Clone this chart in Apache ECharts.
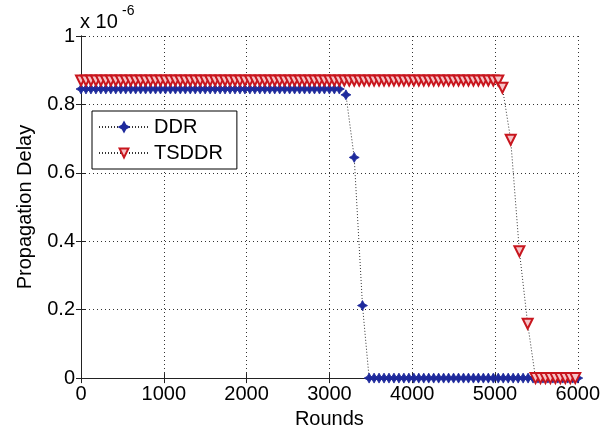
<!DOCTYPE html>
<html>
<head>
<meta charset="utf-8">
<script src="https://cdn.jsdelivr.net/npm/echarts@6/dist/echarts.min.js"></script>
<style>
  html, body { margin: 0; padding: 0; background: #fff; }
  #chart { width: 603px; height: 434px; }
</style>
</head>
<body>
<div id="chart"></div>
<script>
// Propagation delay (units of 1e-6) against simulation rounds

const xTicks = [0, 1000, 2000, 3000, 4000, 5000, 6000];
const yTicks = [0, 0.2, 0.4, 0.6, 0.8, 1];

const ddrRounds = [
  0, 60, 120, 180, 240, 300, 360, 420, 480, 540,
  600, 660, 720, 780, 840, 900, 960, 1020, 1080, 1140,
  1200, 1260, 1320, 1380, 1440, 1500, 1560, 1620, 1680, 1740,
  1800, 1860, 1920, 1980, 2040, 2100, 2160, 2220, 2280, 2340,
  2400, 2460, 2520, 2580, 2640, 2700, 2760, 2820, 2880, 2940,
  3000, 3060, 3120,
  3200, 3300, 3400,
  3480, 3540, 3600, 3660, 3720, 3780, 3840, 3900, 3960, 4020,
  4080, 4140, 4200, 4260, 4320, 4380, 4440, 4500, 4560, 4620,
  4680, 4740, 4800, 4860, 4920, 4980, 5040, 5100, 5160, 5220,
  5280, 5340, 5400, 5460, 5520, 5580, 5640, 5700, 5760, 5820,
  5880, 5940, 6000
];
const ddrDelay = [
  0.845, 0.845, 0.845, 0.845, 0.845, 0.845, 0.845, 0.845, 0.845, 0.845,
  0.845, 0.845, 0.845, 0.845, 0.845, 0.845, 0.845, 0.845, 0.845, 0.845,
  0.845, 0.845, 0.845, 0.845, 0.845, 0.845, 0.845, 0.845, 0.845, 0.845,
  0.845, 0.845, 0.845, 0.845, 0.845, 0.845, 0.845, 0.845, 0.845, 0.845,
  0.845, 0.845, 0.845, 0.845, 0.845, 0.845, 0.845, 0.845, 0.845, 0.845,
  0.845, 0.845, 0.845,
  0.828, 0.645, 0.212,
  0, 0, 0, 0, 0, 0, 0, 0, 0, 0,
  0, 0, 0, 0, 0, 0, 0, 0, 0, 0,
  0, 0, 0, 0, 0, 0, 0, 0, 0, 0,
  0, 0, 0, 0, 0, 0, 0, 0, 0, 0,
  0, 0, 0
];

const tsddrRounds = [
  0, 60, 120, 180, 240, 300, 360, 420, 480, 540,
  600, 660, 720, 780, 840, 900, 960, 1020, 1080, 1140,
  1200, 1260, 1320, 1380, 1440, 1500, 1560, 1620, 1680, 1740,
  1800, 1860, 1920, 1980, 2040, 2100, 2160, 2220, 2280, 2340,
  2400, 2460, 2520, 2580, 2640, 2700, 2760, 2820, 2880, 2940,
  3000, 3060, 3120, 3180, 3240, 3300, 3360, 3420, 3480, 3540,
  3600, 3660, 3720, 3780, 3840, 3900, 3960, 4020, 4080, 4140,
  4200, 4260, 4320, 4380, 4440, 4500, 4560, 4620, 4680, 4740,
  4800, 4860, 4920, 4980, 5040,
  5090, 5190, 5295, 5395,
  5490, 5550, 5610, 5670, 5730, 5790, 5850, 5910, 5970
];
const tsddrDelay = [
  0.87, 0.87, 0.87, 0.87, 0.87, 0.87, 0.87, 0.87, 0.87, 0.87,
  0.87, 0.87, 0.87, 0.87, 0.87, 0.87, 0.87, 0.87, 0.87, 0.87,
  0.87, 0.87, 0.87, 0.87, 0.87, 0.87, 0.87, 0.87, 0.87, 0.87,
  0.87, 0.87, 0.87, 0.87, 0.87, 0.87, 0.87, 0.87, 0.87, 0.87,
  0.87, 0.87, 0.87, 0.87, 0.87, 0.87, 0.87, 0.87, 0.87, 0.87,
  0.87, 0.87, 0.87, 0.87, 0.87, 0.87, 0.87, 0.87, 0.87, 0.87,
  0.87, 0.87, 0.87, 0.87, 0.87, 0.87, 0.87, 0.87, 0.87, 0.87,
  0.87, 0.87, 0.87, 0.87, 0.87, 0.87, 0.87, 0.87, 0.87, 0.87,
  0.87, 0.87, 0.87, 0.87, 0.87,
  0.849, 0.697, 0.371, 0.159,
  0, 0, 0, 0, 0, 0, 0, 0, 0
];

const FONT = '"Liberation Sans", Arial, sans-serif';
const pairs = (xs, ys) => xs.map((x, i) => [x, ys[i]]);

const starPath = 'path://M0,-10 L3.6,-3.6 L10,0 L3.6,3.6 L0,10 L-3.6,3.6 L-10,0 L-3.6,-3.6 Z';
const trianglePath = 'path://M-10,-8 L10,-8 L0,10 Z';

const xBase = {
  type: 'value', min: xTicks[0], max: xTicks[xTicks.length - 1], interval: 1000,
  axisLine: { show: true, lineStyle: { color: '#222', width: 1 } },
  axisTick: { show: true, inside: true, length: 5, lineStyle: { color: '#222' } }
};
const yBase = {
  type: 'value', min: yTicks[0], max: yTicks[yTicks.length - 1], interval: 0.2,
  axisLine: { show: true, lineStyle: { color: '#222', width: 1 } },
  axisTick: { show: true, inside: true, length: 5, lineStyle: { color: '#222' } }
};

const chart = echarts.init(document.getElementById('chart'), null, { renderer: 'canvas' });
chart.setOption({
  backgroundColor: '#fff',
  animation: false,
  grid: { left: 81, right: 25, top: 36, bottom: 51, show: false },
  graphic: [
    { type: 'text', left: 80, top: 12, style: { text: 'x 10', font: '20px ' + FONT, fill: '#000' } },
    { type: 'text', left: 122, top: 4, style: { text: '-6', font: '14px ' + FONT, fill: '#000' } }
  ],
  legend: {
    orient: 'vertical', left: 92, top: 111,
    backgroundColor: '#fff', borderColor: '#000', borderWidth: 1,
    padding: [6, 14, 6, 6], itemGap: 6, itemWidth: 50, itemHeight: 11,
    textStyle: { fontFamily: FONT, fontSize: 20, color: '#000' },
    data: ['DDR', 'TSDDR']
  },
  xAxis: [
    Object.assign({}, xBase, {
      position: 'bottom',
      name: 'Rounds', nameLocation: 'middle', nameGap: 30,
      nameTextStyle: { fontFamily: FONT, fontSize: 20, color: '#000' },
      axisLabel: { margin: 6, fontFamily: FONT, fontSize: 20, color: '#000',
        formatter: v => xTicks.includes(v) ? String(v) : '' },
      splitLine: { show: true, lineStyle: { color: '#333', type: [1, 3], width: 1 } }
    }),
    Object.assign({}, xBase, {
      position: 'top', axisLabel: { show: false }, splitLine: { show: false }
    })
  ],
  yAxis: [
    Object.assign({}, yBase, {
      position: 'left',
      name: 'Propagation Delay', nameLocation: 'middle', nameGap: 46,
      nameTextStyle: { fontFamily: FONT, fontSize: 20, color: '#000' },
      axisLabel: { margin: 6, fontFamily: FONT, fontSize: 20, color: '#000',
        formatter: v => { const t = yTicks.find(k => Math.abs(k - v) < 1e-9); return t === undefined ? '' : String(t); } },
      splitLine: { show: true, lineStyle: { color: '#333', type: [1, 3], width: 1 } }
    }),
    Object.assign({}, yBase, {
      position: 'right', axisLabel: { show: false }, splitLine: { show: false }
    })
  ],
  series: [
    {
      name: 'DDR', type: 'line', xAxisIndex: 0, yAxisIndex: 0,
      data: pairs(ddrRounds, ddrDelay),
      symbol: starPath, symbolSize: 10, showAllSymbol: true,
      lineStyle: { color: '#333', width: 1, type: [1, 2] },
      itemStyle: { color: '#1e2a9c', borderColor: '#1e2a9c', borderWidth: 0.8 },
      z: 3
    },
    {
      name: 'TSDDR', type: 'line', xAxisIndex: 0, yAxisIndex: 0,
      data: pairs(tsddrRounds, tsddrDelay),
      symbol: trianglePath, symbolSize: 10, showAllSymbol: true,
      lineStyle: { color: '#333', width: 1, type: [1, 2] },
      itemStyle: { color: '#f6c4c8', borderColor: '#c8161e', borderWidth: 2 },
      z: 4
    }
  ]
});
</script>
</body>
</html>
